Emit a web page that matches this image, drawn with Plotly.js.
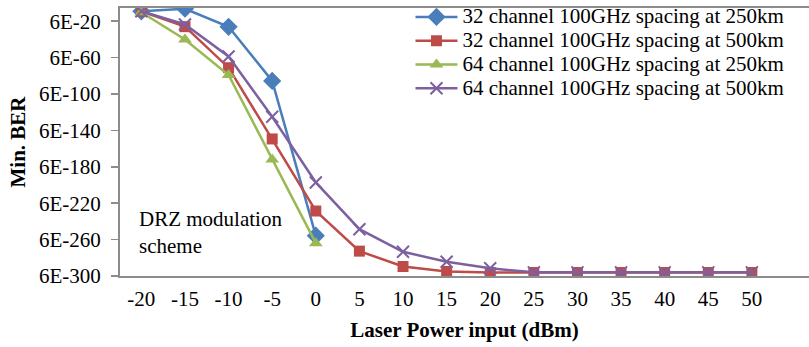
<!DOCTYPE html>
<html>
<head>
<meta charset="utf-8">
<script src="https://cdn.plot.ly/plotly-3.0.1.min.js"></script>
<style>html,body{margin:0;padding:0;background:#fff;}#chart{width:809px;height:347px;}</style>
</head>
<body>
<div id="chart"></div>
<script>
// Laser power input (dBm)
const powerAll = [-20, -15, -10, -5, 0, 5, 10, 15, 20, 25, 30, 35, 40, 45, 50];
const powerShort = [-20, -15, -10, -5, 0];

// Min. BER values
const ber32ch250km = [5e-9, 3e-6, 4e-26, 1.6e-85, 1.3e-255];
const ber32ch500km = [5e-9, 6e-26, 5e-71, 2.5e-149, 1.6e-228, 1.3e-272, 1.6e-289, 5e-295, 4e-296, 4e-296, 4e-296, 4e-296, 4e-296, 4e-296, 4e-296];
const ber64ch250km = [4e-10, 6e-40, 5e-79, 6e-172, 8e-264];
const ber64ch500km = [5e-9, 1.6e-23, 1e-58, 6e-125, 4e-197, 1.6e-248, 2.5e-273, 2.5e-284, 1.6e-291, 6e-296, 6e-296, 6e-296, 6e-296, 6e-296, 6e-296];

const seriesNames = [
  "32 channel 100GHz spacing at 250km",
  "32 channel 100GHz spacing at 500km",
  "64 channel 100GHz spacing at 250km",
  "64 channel 100GHz spacing at 500km"
];

const yTickVals = [6e-300, 6e-260, 6e-220, 6e-180, 6e-140, 6e-100, 6e-60, 6e-20];
const yTickText = ["6E-300", "6E-260", "6E-220", "6E-180", "6E-140", "6E-100", "6E-60", "6E-20"];
const xTickVals = powerAll;
const xTickText = powerAll.map(String);

const FONT = "Liberation Serif";
const big = s => '<span style="font-size:21px">' + s + '</span>';

const traces = [
  {x: powerShort, y: ber32ch250km, name: big(seriesNames[0]), mode: "lines+markers",
   line: {color: "#4A7EBB", width: 2.5},
   marker: {symbol: "diamond", size: 14, color: "#4A7EBB"}},
  {x: powerAll, y: ber32ch500km, name: big(seriesNames[1]), mode: "lines+markers",
   line: {color: "#BE4B48", width: 2.5},
   marker: {symbol: "square", size: 11, color: "#BE4B48"}},
  {x: powerShort, y: ber64ch250km, name: big(seriesNames[2]), mode: "lines+markers",
   line: {color: "#98B954", width: 2.5},
   marker: {symbol: "triangle-up", size: 12, color: "#98B954"}},
  {x: powerAll, y: ber64ch500km, name: big(seriesNames[3]), mode: "lines+markers",
   line: {color: "#7D60A0", width: 2.5},
   marker: {symbol: "x-thin-open", size: 12, color: "#7D60A0", line: {color: "#7D60A0", width: 2}}}
];

const layout = {
  width: 809, height: 347,
  margin: {l: 120, r: 0, t: 7, b: 71},
  paper_bgcolor: "#ffffff", plot_bgcolor: "#ffffff",
  font: {family: FONT, size: 21, color: "#000000"},
  showlegend: true,
  legend: {x: 0.4216, xanchor: "left", y: 1.03, yanchor: "top", itemwidth: 42,
           bgcolor: "rgba(0,0,0,0)", font: {family: FONT, size: 16, color: "#000"}},
  xaxis: {
    type: "linear", range: [-22.45, 56.55],
    tickvals: xTickVals, ticktext: xTickText, ticks: "",
    ticklabelstandoff: 3,
    showgrid: false, zeroline: false,
    showline: true, linecolor: "#8c8c8c", linewidth: 2, mirror: true,
    tickfont: {family: FONT, size: 21, color: "#000"},
    title: {text: "<b>Laser Power input (dBm)</b>", font: {family: FONT, size: 21, color: "#000"}, standoff: 12}
  },
  yaxis: {
    type: "log", range: [Math.log10(6e-300), -4.7],
    tickvals: yTickVals, ticktext: yTickText,
    ticks: "outside", ticklen: 7, tickcolor: "#8c8c8c", tickwidth: 1.5,
    ticklabelstandoff: 6,
    showgrid: false, zeroline: false,
    showline: true, linecolor: "#8c8c8c", linewidth: 2, mirror: false,
    tickfont: {family: FONT, size: 21, color: "#000"},
    title: {text: "<b>Min. BER</b>", font: {family: FONT, size: 21, color: "#000"}, standoff: 8}
  },
  annotations: [{
    text: "DRZ modulation<br>scheme", xref: "paper", yref: "paper",
    x: 0.025, y: 0.1615, xanchor: "left", yanchor: "middle", align: "left", showarrow: false,
    font: {family: FONT, size: 21, color: "#000"}
  }]
};

Plotly.newPlot("chart", traces, layout, {displayModeBar: false, staticPlot: true});
</script>
</body>
</html>
